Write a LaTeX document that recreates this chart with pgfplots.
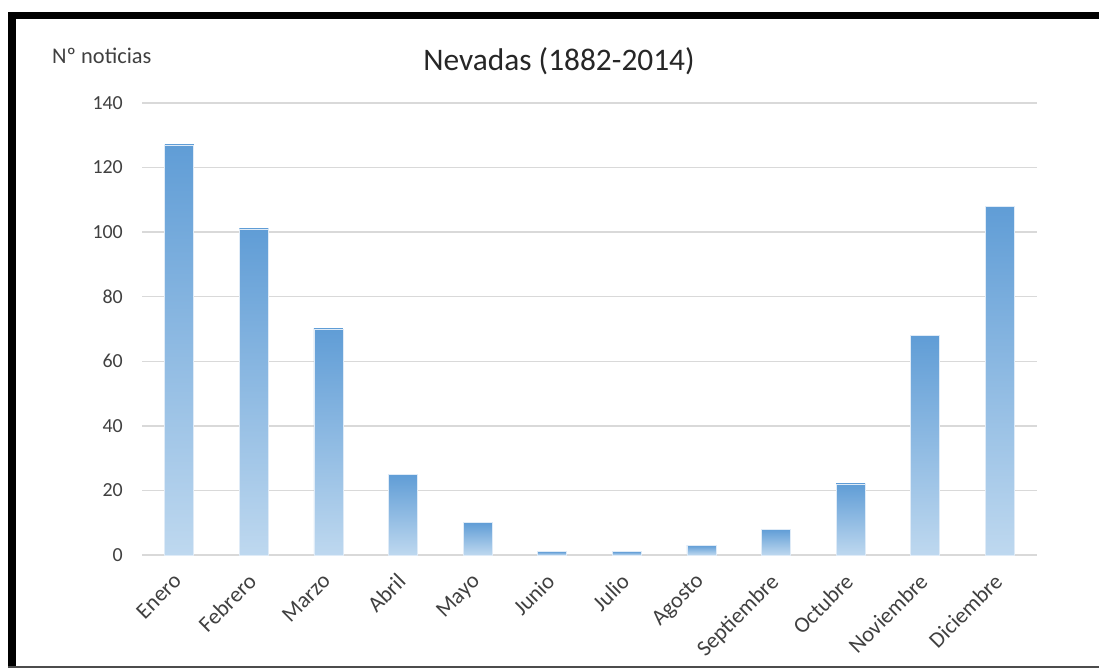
\documentclass[border=0pt]{standalone}
\usepackage{pgfplots}
\pgfplotsset{compat=1.18}
\usepackage{fontspec}
\setmainfont{Carlito}
\definecolor{txt}{RGB}{64,64,64}
\definecolor{gridc}{RGB}{217,217,217}
\definecolor{bartop}{RGB}{96,157,214}
\definecolor{barbot}{RGB}{190,216,239}
\pgfplotsset{mybar/.style={ybar, bar width=29bp, bar shift=0pt, draw=white!80!bartop, line width=0.6bp, top color=bartop, bottom color=barbot}}
\begin{document}
\begin{tikzpicture}
\path[use as bounding box] (0bp,0bp) rectangle (1099bp,668bp);
% frame
\fill[black] (8bp,0bp) rectangle (16bp,656bp);
\fill[black] (8bp,649bp) rectangle (1099bp,656bp);
\fill[black!70] (8bp,0bp) rectangle (1099bp,2bp);
\node[anchor=base west, text=txt, font=\fontsize{22.5}{26}\selectfont, inner sep=0pt] at (52bp,604bp) {Nº noticias};
\node[anchor=base, text=black!85, font=\fontsize{31.5}{36}\selectfont, inner sep=0pt] at (559bp,597bp) {Nevadas (1882-2014)};
\begin{axis}[
  at={(142bp,113bp)}, anchor=south west,
  width=895bp, height=452bp, scale only axis,
  xmin=-0.5, xmax=11.5, ymin=0, ymax=140,
  axis line style={draw=none},
  axis x line*=bottom,
  ytick={0,20,...,140},
  xtick={0,...,11},
  xticklabels={Enero,Febrero,Marzo,Abril,Mayo,Junio,Julio,Agosto,Septiembre,Octubre,Noviembre,Diciembre},
  major tick length=0pt,
  ymajorgrids, grid style={gridc, line width=1.5bp},
  /pgf/number format/assume math mode=true,
  yticklabel style={font=\fontsize{20}{24}\selectfont, text=txt, inner sep=0pt, xshift=-19bp},
  xticklabel style={font=\fontsize{22.5}{26}\selectfont, text=txt, inner sep=0pt, rotate=45, anchor=north east, yshift=-7bp, xshift=-17bp},
  clip=false,
]
\draw[gridc, line width=1.5bp] (axis cs:-0.5,0) -- (axis cs:11.5,0);
\addplot[mybar] coordinates {(0,127)};
\addplot[mybar] coordinates {(1,101)};
\addplot[mybar] coordinates {(2,70)};
\addplot[mybar] coordinates {(3,25)};
\addplot[mybar] coordinates {(4,10)};
\addplot[mybar] coordinates {(5,1)};
\addplot[mybar] coordinates {(6,1)};
\addplot[mybar] coordinates {(7,3)};
\addplot[mybar] coordinates {(8,8)};
\addplot[mybar] coordinates {(9,22)};
\addplot[mybar] coordinates {(10,68)};
\addplot[mybar] coordinates {(11,108)};
\end{axis}
\end{tikzpicture}
\end{document}
